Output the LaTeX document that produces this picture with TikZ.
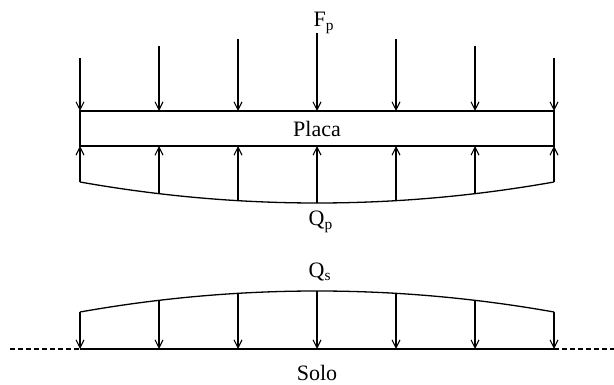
\documentclass[tikz,border=0pt]{standalone}
\usepackage{fontspec}
\setmainfont{Liberation Serif}
\usetikzlibrary{arrows.meta}
\begin{document}
\begin{tikzpicture}[x=1pt,y=-1pt,line width=1.3pt,
  force/.style={-{Straight Barb[length=8pt,width=8pt,line width=1.1pt]}},
  lbl/.style={font=\fontsize{22}{24}\selectfont,inner sep=0pt},
  gnd/.style={dash pattern=on 5pt off 3pt}]
\useasboundingbox (0,0) rectangle (614,385);
% plate
\node[draw,line width=1.3pt,minimum width=474pt,minimum height=35pt,inner sep=0pt,lbl] (placa) at (317,128.5) {Placa};
% loads on plate
\foreach \i/\ys in {0/58,1/46,2/39,3/33,4/39,5/46,6/58}{
  \coordinate (t\i) at (80+79*\i,\ys);
  \coordinate (pt\i) at (80+79*\i,111);
  \draw[force] (t\i) -- (pt\i);
}
% reaction under plate
\foreach \i/\yc in {0/182,1/193,2/200,3/203,4/200,5/193,6/182}{
  \coordinate (c\i) at (80+79*\i,\yc);
  \coordinate (pb\i) at (80+79*\i,146);
  \draw[force] (c\i) -- (pb\i);
}
\draw (c0) .. controls (238,210) and (396,210) .. (c6);
% soil
\coordinate (gLL) at (10,349);
\coordinate (gRR) at (614,349);
\foreach \i/\ys in {0/312,1/300.7,2/293.3,3/291,4/293.3,5/300.7,6/312}{
  \coordinate (s\i) at (80+79*\i,\ys);
  \coordinate (g\i) at (80+79*\i,349);
  \draw[force] (s\i) -- (g\i);
}
\draw (s0) .. controls (238,284) and (396,284) .. (s6);
\draw (g0) -- (g6);
\draw[gnd] (gLL) -- (g0);
\draw[gnd] (g6) -- (gRR);
% labels
\node[lbl,anchor=base west] (fp) at (313,27) {F\textsubscript{p}};
\node[lbl,anchor=base west] (qp) at (308,226) {Q\textsubscript{p}};
\node[lbl,anchor=base west] (qs) at (308,277) {Q\textsubscript{s}};
\node[lbl,anchor=base] (solo) at (317,380) {Solo};
\end{tikzpicture}
\end{document}
